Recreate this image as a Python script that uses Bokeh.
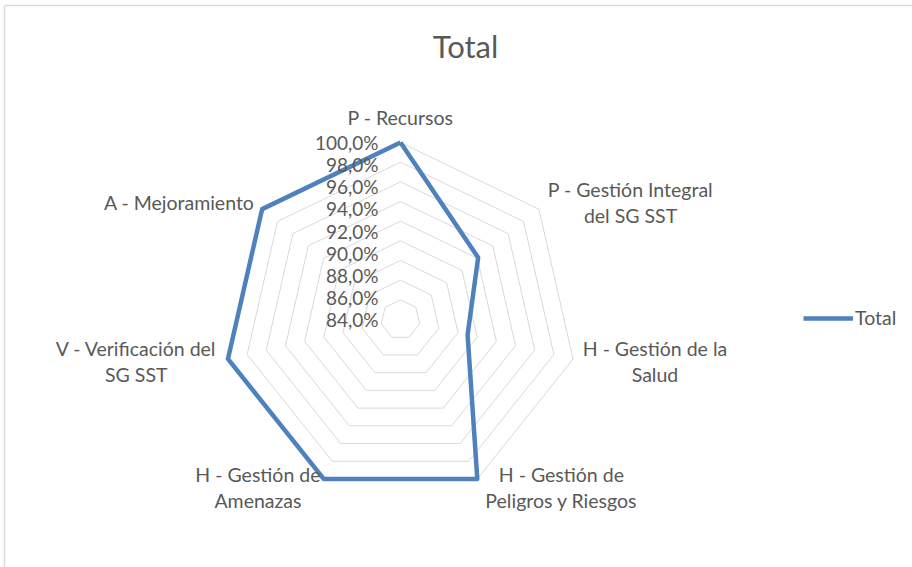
import numpy as np
from bokeh.plotting import figure
from bokeh.models import Range1d, Legend, LegendItem
from bokeh.core.properties import value
from bokeh.embed import file_html
from bokeh.resources import INLINE

# ---------------- data ----------------
title_text = "Total"
series_name = "Total"
categories = [
    "P - Recursos",
    "P - Gestión Integral\ndel SG SST",
    "H - Gestión de la\nSalud",
    "H - Gestión de\nPeligros y Riesgos",
    "H - Gestión de\nAmenazas",
    "V - Verificación del\nSG SST",
    "A - Mejoramiento",
]
values = [100.0, 92.1, 89.0, 100.0, 100.0, 100.0, 100.0]
ring_values = [84.0, 86.0, 88.0, 90.0, 92.0, 94.0, 96.0, 98.0, 100.0]
tick_labels = ["84,0%", "86,0%", "88,0%", "90,0%", "92,0%", "94,0%", "96,0%", "98,0%", "100,0%"]
axis_min = 82.0
axis_max = 100.0

# ---------------- layout / style ----------------
W, H = 912, 567
CX, CY, R = 400.0, 319.0, 177.0
FONT = "Lato"
TXT = "#595959"
LINE_COLOR = "#4F81BD"
GRID = "#d9d9d9"
LABEL_PX = 19.5
TICK_PX = 19
LINE_GAP = 26

n = len(categories)
theta = 2 * np.pi * np.arange(n) / n


def rad(v):
    return (v - axis_min) / (axis_max - axis_min) * R


def polar(r, t):
    return CX + r * np.sin(t), CY - r * np.cos(t)


def est_width(s, px):
    w = 0.0
    for ch in s:
        if ch in "il.,'|!":
            w += 0.24
        elif ch in "ftjrI- ":
            w += 0.34
        elif ch in "mMW":
            w += 0.84
        elif ch.isupper():
            w += 0.62
        else:
            w += 0.52
    return w * px


p = figure(width=W, height=H, x_range=Range1d(0, W), y_range=Range1d(H, 0),
           output_backend="svg", toolbar_location=None, min_border=0)
p.axis.visible = False
p.grid.visible = False
p.outline_line_color = None
p.background_fill_color = "white"
p.border_fill_color = "white"

# chart-area border (top / left visible in the crop)
p.segment(x0=[4, 4], y0=[5, 5], x1=[4, W], y1=[H, 5], line_color=GRID, line_width=1.5)

# rings
ring_xs, ring_ys = [], []
for v in ring_values:
    xx, yy = polar(rad(v), np.append(theta, theta[0]))
    ring_xs.append(list(xx))
    ring_ys.append(list(yy))
p.multi_line(ring_xs, ring_ys, line_color=GRID, line_width=1)

# data polygon
r_vals = np.array([rad(v) for v in values])
dx, dy = polar(np.append(r_vals, r_vals[0]), np.append(theta, theta[0]))
rend = p.line(list(dx), list(dy), line_color=LINE_COLOR, line_width=4.5, line_join="round")

# radial tick labels (Excel spreads them from 84 at centre to 100 at top)
tick_y = [CY - (v - ring_values[0]) / (ring_values[-1] - ring_values[0]) * R for v in ring_values]
p.text(x=[CX - 22] * len(ring_values), y=tick_y, text=tick_labels,
       text_font=value(FONT), text_font_size=f"{TICK_PX}px", text_color=TXT,
       text_align="right", text_baseline="middle")

# category labels
lx, ly, lt = [], [], []
for i, lab in enumerate(categories):
    lines = lab.split("\n")
    ax, ay = polar(R + 10, theta[i])
    s = np.sin(theta[i])
    widths = [est_width(l, LABEL_PX) for l in lines]
    bw = max(widths)
    if s > 0.01:
        bx = ax + bw / 2
    elif s < -0.01:
        bx = ax - bw / 2
    else:
        bx = ax
    if abs(s) <= 0.01:
        top = ay - 2 - LINE_GAP * len(lines) + LINE_GAP / 2
        ys = [top + k * LINE_GAP for k in range(len(lines))]
    else:
        ys = [ay + (k - (len(lines) - 1) / 2) * LINE_GAP for k in range(len(lines))]
    for l, yy in zip(lines, ys):
        lx.append(bx)
        ly.append(yy)
        lt.append(l)
p.text(x=lx, y=ly, text=lt, text_font=value(FONT), text_font_size=f"{LABEL_PX}px",
       text_color=TXT, text_align="center", text_baseline="middle")

# title
p.text(x=[465], y=[45], text=[title_text], text_font=value(FONT), text_font_size="31px",
       text_color=TXT, text_align="center", text_baseline="middle")

# legend
legend = Legend(items=[LegendItem(label=series_name, renderers=[rend])],
                location=(803, H - 319 - 10), orientation="vertical",
                glyph_width=50, glyph_height=20, label_height=20, label_standoff=2,
                padding=0, margin=0, spacing=0,
                border_line_color=None, background_fill_alpha=0,
                label_text_font=FONT, label_text_font_size=f"{LABEL_PX}px",
                label_text_color=TXT)
p.add_layout(legend, "center")

open("out.html", "w").write(file_html(p, INLINE))
